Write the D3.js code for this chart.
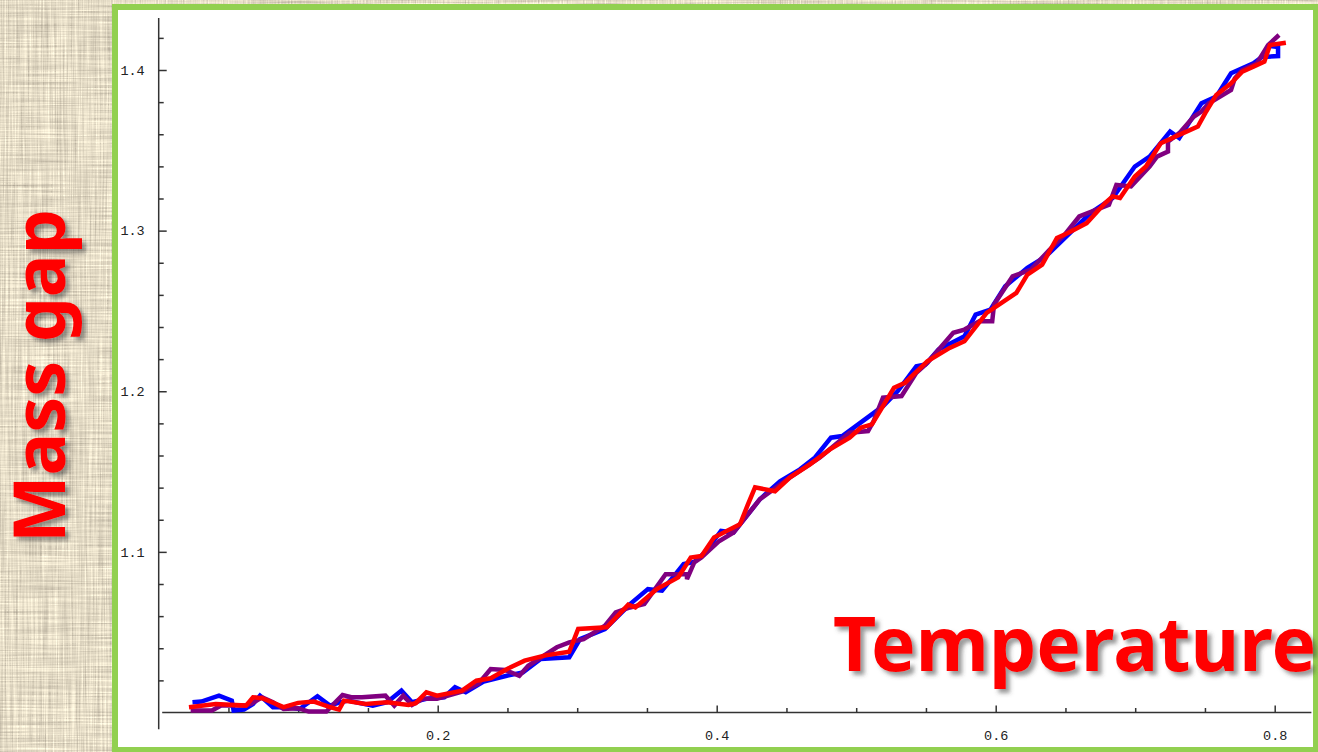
<!DOCTYPE html>
<html>
<head>
<meta charset="utf-8">
<script src="https://cdn.jsdelivr.net/npm/d3@7"></script>
<style>
  html, body { margin: 0; padding: 0; background: #e3dac6; overflow: hidden; }
  svg { display: block; }
</style>
</head>
<body>
<svg id="chart" width="1318" height="752"></svg>
<script>
// Mass gap versus temperature, three runs: [temperature, mass gap]
const blueRun = [
  [0.0242,1.0064],[0.0306,1.0068],[0.0432,1.0105],[0.0524,1.0074],[0.0537,1.0012],[0.0611,1.0018],
  [0.0676,1.0053],[0.0726,1.0105],[0.0819,1.0033],[0.0920,1.0033],[0.1010,1.0022],[0.1138,1.0101],
  [0.1228,1.0043],[0.1305,1.0064],[0.1356,1.0074],[0.1535,1.0043],[0.1637,1.0064],[0.1740,1.0136],
  [0.1816,1.0064],[0.1919,1.0085],[0.2047,1.0095],[0.2124,1.0157],[0.2201,1.0126],[0.2329,1.0192],
  [0.2495,1.0229],[0.2611,1.0250],[0.2738,1.0333],[0.2943,1.0344],[0.3020,1.0457],[0.3199,1.0520],
  [0.3379,1.0675],[0.3507,1.0768],[0.3608,1.0758],[0.3686,1.0841],[0.3763,1.0924],[0.3839,1.0938],
  [0.3916,1.0996],[0.4031,1.1130],[0.4121,1.1121],[0.4310,1.1328],[0.4454,1.1439],[0.4597,1.1514],
  [0.4705,1.1588],[0.4819,1.1711],[0.4900,1.1721],[0.5192,1.1907],[0.5298,1.2001],[0.5431,1.2156],
  [0.5497,1.2167],[0.5590,1.2260],[0.5776,1.2342],[0.5856,1.2477],[0.5962,1.2508],[0.6068,1.2653],
  [0.6227,1.2768],[0.6360,1.2840],[0.6679,1.3109],[0.6838,1.3203],[0.6997,1.3399],[0.7103,1.3461],
  [0.7250,1.3617],[0.7316,1.3576],[0.7475,1.3793],[0.7581,1.3834],[0.7687,1.3980],[0.7847,1.4042],
  [0.7909,1.4081],[0.8024,1.4087],[0.8024,1.4143],[0.7966,1.4149]
];

const purpleRun = [
  [0.0229,1.0012],[0.0382,1.0012],[0.0447,1.0043],[0.0611,1.0043],[0.0662,1.0053],[0.0741,1.0095],
  [0.0819,1.0064],[0.0895,1.0022],[0.0999,1.0027],[0.1075,1.0006],[0.1202,1.0006],[0.1254,1.0053],
  [0.1318,1.0109],[0.1381,1.0095],[0.1457,1.0095],[0.1625,1.0105],[0.1689,1.0043],[0.1753,1.0105],
  [0.1816,1.0047],[0.1894,1.0085],[0.1995,1.0085],[0.2174,1.0130],[0.2290,1.0178],[0.2380,1.0271],
  [0.2482,1.0265],[0.2585,1.0229],[0.2649,1.0291],[0.2854,1.0406],[0.2943,1.0437],[0.3046,1.0457],
  [0.3199,1.0540],[0.3276,1.0623],[0.3378,1.0654],[0.3481,1.0675],[0.3558,1.0768],[0.3634,1.0861],
  [0.3787,1.0861],[0.3787,1.0830],[0.3839,1.0934],[0.3890,1.0965],[0.4019,1.1068],[0.4121,1.1121],
  [0.4310,1.1328],[0.4525,1.1464],[0.4740,1.1588],[0.4953,1.1742],[0.5085,1.1752],[0.5125,1.1814],
  [0.5192,1.1960],[0.5325,1.1970],[0.5431,1.2115],[0.5510,1.2177],[0.5696,1.2364],[0.5776,1.2384],
  [0.5883,1.2436],[0.5975,1.2436],[0.5988,1.2540],[0.6121,1.2715],[0.6253,1.2757],[0.6386,1.2881],
  [0.6493,1.2974],[0.6599,1.3088],[0.6812,1.3161],[0.6865,1.3285],[0.6970,1.3275],[0.7103,1.3399],
  [0.7156,1.3461],[0.7235,1.3492],[0.7235,1.3554],[0.7316,1.3607],[0.7421,1.3710],[0.7475,1.3741],
  [0.7528,1.3793],[0.7687,1.3876],[0.7714,1.3948],[0.7767,1.4000],[0.7873,1.4042],[0.7952,1.4155],
  [0.8031,1.4218]
];

const redRun = [
  [0.0217,1.0033],[0.0409,1.0053],[0.0626,1.0043],[0.0676,1.0095],[0.0741,1.0089],[0.0895,1.0033],
  [0.0999,1.0060],[0.1113,1.0068],[0.1228,1.0033],[0.1293,1.0018],[0.1328,1.0074],[0.1484,1.0053],
  [0.1637,1.0064],[0.1791,1.0047],[0.1842,1.0058],[0.1919,1.0126],[0.1995,1.0105],[0.2174,1.0136],
  [0.2277,1.0198],[0.2380,1.0213],[0.2508,1.0275],[0.2623,1.0323],[0.2764,1.0354],[0.2943,1.0378],
  [0.3007,1.0520],[0.3212,1.0530],[0.3366,1.0671],[0.3417,1.0654],[0.3571,1.0768],[0.3724,1.0841],
  [0.3814,1.0965],[0.3891,1.0975],[0.3981,1.1090],[0.4167,1.1172],[0.4224,1.1296],[0.4275,1.1402],
  [0.4418,1.1377],[0.4526,1.1464],[0.4669,1.1545],[0.4812,1.1638],[0.4953,1.1711],[0.5032,1.1773],
  [0.5113,1.1794],[0.5271,1.2022],[0.5350,1.2053],[0.5510,1.2187],[0.5670,1.2270],[0.5776,1.2311],
  [0.5935,1.2488],[0.6095,1.2581],[0.6148,1.2612],[0.6227,1.2726],[0.6333,1.2788],[0.6439,1.2954],
  [0.6518,1.2985],[0.6652,1.3047],[0.6784,1.3172],[0.6838,1.3213],[0.6891,1.3203],[0.6997,1.3337],
  [0.7077,1.3399],[0.7183,1.3544],[0.7343,1.3607],[0.7449,1.3648],[0.7502,1.3731],[0.7581,1.3845],
  [0.7687,1.3917],[0.7767,1.3989],[0.7847,1.4021],[0.7926,1.4052],[0.7966,1.4155],[0.8080,1.4170]
];

const series = [
  { name: "run A", color: "#0000ff", values: blueRun },
  { name: "run B", color: "#800080", values: purpleRun },
  { name: "run C", color: "#ff0000", values: redRun }
];

// Tick values
const xMajorTicks = [0.2, 0.4, 0.6, 0.8];
const xMinorTicks = [0.05, 0.1, 0.15, 0.25, 0.3, 0.35, 0.45, 0.5, 0.55, 0.65, 0.7, 0.75];
const yMajorTicks = [1.1, 1.2, 1.3, 1.4];
const yMinorTicks = [1.02, 1.04, 1.06, 1.08, 1.12, 1.14, 1.16, 1.18, 1.22, 1.24, 1.26, 1.28,
                     1.32, 1.34, 1.36, 1.38, 1.42];

const xTitle = "Temperature";
const yTitle = "Mass gap";

const svg = d3.select("#chart");
const defs = svg.append("defs");

// Linen-like background texture: crossed streaks of noise tinted beige
const linen = defs.append("filter").attr("id", "linen")
  .attr("color-interpolation-filters", "sRGB")
  .attr("x", 0).attr("y", 0).attr("width", 1).attr("height", 1);
linen.append("feTurbulence").attr("type", "fractalNoise")
  .attr("baseFrequency", "0.6 0.012").attr("numOctaves", 3).attr("seed", 4).attr("result", "n1");
linen.append("feTurbulence").attr("type", "fractalNoise")
  .attr("baseFrequency", "0.012 0.6").attr("numOctaves", 3).attr("seed", 9).attr("result", "n2");
linen.append("feComposite").attr("in", "n1").attr("in2", "n2")
  .attr("operator", "arithmetic").attr("k1", 0).attr("k2", 0.5).attr("k3", 0.5).attr("k4", 0)
  .attr("result", "n");
linen.append("feColorMatrix").attr("in", "n").attr("type", "matrix")
  .attr("values", "0.6 0 0 0 0.595  0.6 0 0 0 0.56  0.55 0 0 0 0.50  0 0 0 0 1");

// Soft drop shadow for the big titles
const shadow = defs.append("filter").attr("id", "titleShadow")
  .attr("x", "-10%").attr("y", "-10%").attr("width", "130%").attr("height", "130%");
shadow.append("feDropShadow").attr("dx", 4).attr("dy", 4).attr("stdDeviation", 2)
  .attr("flood-color", "#444").attr("flood-opacity", 0.55);

svg.append("rect").attr("x", 0).attr("y", 0).attr("width", 1318).attr("height", 752)
  .attr("fill", "#e3dac6").attr("filter", "url(#linen)");

// White plot panel with green frame
svg.append("rect")
  .attr("x", 115).attr("y", 7).attr("width", 1201).attr("height", 743)
  .attr("fill", "#ffffff").attr("stroke", "#92d050").attr("stroke-width", 6);

// Scales
const x = d3.scaleLinear().domain([0, 0.8]).range([158.7, 1274.7]);
const y = d3.scaleLinear().domain([1.0, 1.4]).range([712.5, 70]);

const axisColor = "#333333";
const tickFont = "'Liberation Mono', 'DejaVu Sans Mono', monospace";

// Axis lines
const axes = svg.append("g").attr("stroke", axisColor).attr("stroke-width", 1.5);
axes.append("line")
  .attr("x1", x(0)).attr("x2", x(0))
  .attr("y1", y(1.4323)).attr("y2", y(0.9895));
axes.append("line")
  .attr("x1", x(0.0025)).attr("x2", x(0.8263))
  .attr("y1", y(1.0)).attr("y2", y(1.0));

// Y axis ticks (pointing inward)
const yAxisMajor = svg.append("g")
  .attr("transform", `translate(${x(0)},0)`)
  .call(d3.axisLeft(y).tickValues(yMajorTicks).tickSize(-8).tickPadding(14)
    .tickFormat(d3.format(".1f")));
const yAxisMinor = svg.append("g")
  .attr("transform", `translate(${x(0)},0)`)
  .call(d3.axisLeft(y).tickValues(yMinorTicks).tickSize(-5).tickFormat(""));

// X axis ticks (pointing up)
const xAxisMajor = svg.append("g")
  .attr("transform", `translate(0,${y(1.0)})`)
  .call(d3.axisBottom(x).tickValues(xMajorTicks).tickSize(-7).tickPadding(18)
    .tickFormat(d3.format(".1f")));
const xAxisMinor = svg.append("g")
  .attr("transform", `translate(0,${y(1.0)})`)
  .call(d3.axisBottom(x).tickValues(xMinorTicks).tickSize(-4.5).tickFormat(""));

[yAxisMajor, yAxisMinor, xAxisMajor, xAxisMinor].forEach(g => {
  g.select(".domain").remove();
  g.selectAll(".tick line").attr("stroke", axisColor).attr("stroke-width", 1.5);
  g.selectAll(".tick text")
    .attr("fill", "#222")
    .style("font-family", tickFont)
    .style("font-size", "13.5px");
});

// Data lines
const line = d3.line().x(d => x(d[0])).y(d => y(d[1]));
svg.append("g").selectAll("path")
  .data(series)
  .join("path")
  .attr("d", d => line(d.values))
  .attr("fill", "none")
  .attr("stroke", d => d.color)
  .attr("stroke-width", 4.5)
  .attr("stroke-linejoin", "miter")
  .attr("stroke-miterlimit", 3);

// Big red titles
const titleFont = "'Noto Sans', 'DejaVu Sans', sans-serif";

svg.append("g").attr("filter", "url(#titleShadow)")
  .append("text")
  .attr("x", 833).attr("y", 671)
  .style("font-family", titleFont)
  .style("font-weight", "bold")
  .style("font-size", "75px")
  .attr("fill", "#ff0000")
  .text(xTitle);

svg.append("g").attr("filter", "url(#titleShadow)")
  .append("text")
  .attr("transform", "translate(65,543) rotate(-90)")
  .style("font-family", titleFont)
  .style("font-weight", "bold")
  .style("font-size", "71.5px")
  .attr("fill", "#ff0000")
  .text(yTitle);
</script>
</body>
</html>
